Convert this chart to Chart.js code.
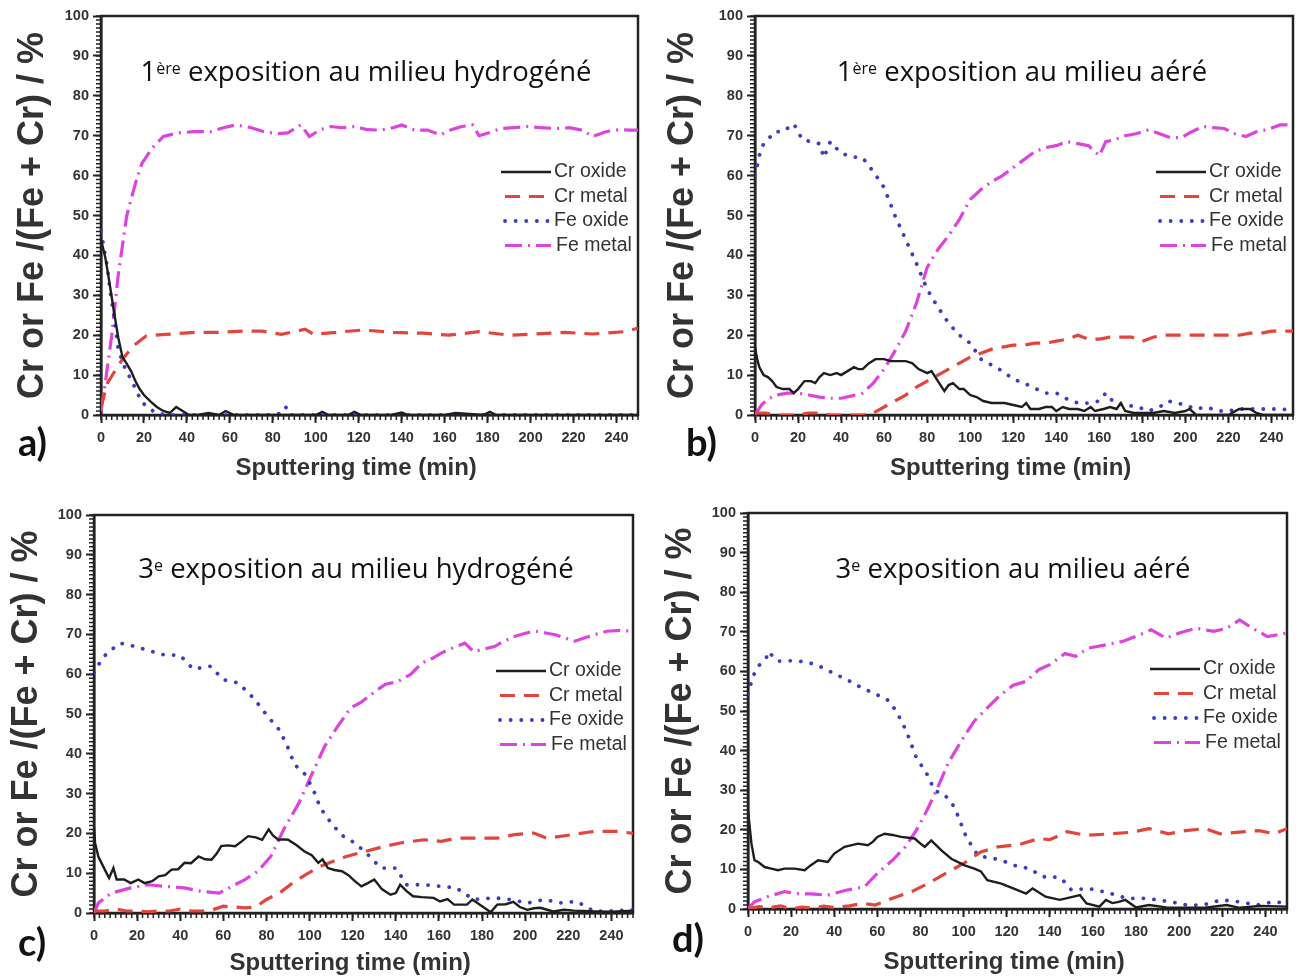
<!DOCTYPE html>
<html>
<head>
<meta charset="utf-8">
<script src="https://cdn.jsdelivr.net/npm/chart.js@4.4.1/dist/chart.umd.min.js"></script>
<style>
  body { margin: 0; background: #fff; width: 1299px; height: 979px; position: relative; overflow: hidden; }
  canvas { position: absolute; }
  .ttl { position: absolute; font-family: "Open Sans", sans-serif; font-size: 27.5px; line-height: 32px; color: #111; white-space: nowrap; transform: translateX(-50%); }
  .ttl sup { font-size: 16px; vertical-align: top; position: relative; top: -3px; }
  .lbl { position: absolute; font-family: Lato, sans-serif; font-weight: bold; font-size: 38px; line-height: 40px; color: #111; }
</style>
</head>
<body>
<canvas id="chartA" width="650" height="490" style="left:0;top:0"></canvas>
<canvas id="chartB" width="649" height="490" style="left:650px;top:0"></canvas>
<canvas id="chartC" width="650" height="489" style="left:0;top:490px"></canvas>
<canvas id="chartD" width="649" height="489" style="left:650px;top:490px"></canvas>

<div class="ttl" style="left:366px;top:55px">1<sup>ère</sup> exposition au milieu hydrogéné</div>
<div class="ttl" style="left:1022px;top:55px">1<sup>ère</sup> exposition au milieu aéré</div>
<div class="ttl" style="left:356px;top:552px">3<sup>e</sup> exposition au milieu hydrogéné</div>
<div class="ttl" style="left:1013px;top:552px">3<sup>e</sup> exposition au milieu aéré</div>

<div class="lbl" style="left:18px;top:421px">a)</div>
<div class="lbl" style="left:686px;top:421px">b)</div>
<div class="lbl" style="left:18px;top:921px">c)</div>
<div class="lbl" style="left:672px;top:917px">d)</div>

<script>
const seriesNames = ['Cr oxide', 'Cr metal', 'Fe oxide', 'Fe metal']

// a) 1ère exposition, milieu hydrogéné
const aCrOxT = [0,2,4,6,8,10,12,14,16,18,20,23,26,29,32,35,38,41,45,50,55,58,62,70,80,90,100,103,106,115,118,121,135,140,143,160,165,178,181,184,200,220,240,250]
const aCrOxV = [44,39.5,33,26,19.5,14.5,12.8,11,8.5,6.5,5,3.4,2,1,0.5,2,1,0,0,0.5,0,1,0,0,0,0,0,0.8,0,0,0.8,0,0,0.6,0,0,0.5,0,0.8,0,0,0,0,0]
const aCrMeT = [0,3,7,10,15,21,30,44,54,66,75,84,95,99,111,122,136,150,162,176,190,202,216,229,244,250]
const aCrMeV = [2,8,11.5,14,17.3,19.8,20.2,20.7,20.7,21,21,20.2,21.5,20.2,20.8,21.3,20.7,20.5,20,20.9,20,20.3,20.7,20.3,20.9,21.8]
const aFeOxT = [0,3,4,6,8,11,15,19,25,30,60,80,84,86,88,100,150,200,250]
const aFeOxV = [46,37,32,25,16.5,12,7.8,3.2,0.7,0,0,0,0.5,2,0,0,0,0,0]
const aFeMeT = [0,2,5,8,12,16,19,24,29,36,43,51,57,63,70,76,82,87,93,97,102,107,112,118,124,130,136,140,146,152,158,163,168,173,176,181,186,192,198,205,212,218,224,229,235,241,246,250]
const aFeMeV = [1,8,20,35,50,58,63,67,69.8,70.7,71,71,72,72.7,72,71,70.5,70.7,72.7,69.8,71.5,72.3,72,72.3,71.5,71.4,72,72.7,71.4,71.4,70.2,71.5,72.3,72.7,70,70.8,71.8,72,72.3,72,71.8,72,71.4,69.8,71,71.5,71.4,71.4]

// b) 1ère exposition, milieu aéré
const bCrOxT = [0,1,2,4,6,8,10,13,16,18,20,23,26,28,30,32,35,38,40,43,46,48,50,53,56,60,63,66,70,73,76,80,82,85,88,90,92,95,97,100,103,106,110,113,116,120,124,126,128,132,135,138,140,143,146,150,153,156,158,162,165,168,170,172,176,180,185,190,195,200,202,205,210,215,220,225,230,233,236,250]
const bCrOxV = [17,14,12,10,9.5,8.5,7,6.5,6.5,5.5,6.5,8.5,8.5,8,9.5,10.5,10,10.5,10,11,12,11.5,11.5,13,14,14,13.5,13.5,13.5,13,11.5,10.5,11,8.5,6,7.5,8,6.5,6.5,5,4.5,3.5,3,3,3,2.5,2,3,1.5,1.5,2,2,1,2,1.5,1.5,1,2,1,1.5,2,1.5,3,1,0.5,0.5,0.5,1,0.5,1,1.5,0,0,0,0,1.5,1.5,0.5,0,0]
const bCrMeT = [0,5,10,15,20,25,30,35,40,45,50,55,60,65,70,75,80,85,90,95,100,105,110,115,120,125,130,135,140,145,150,155,160,165,170,175,180,185,190,195,200,205,210,215,220,225,230,235,240,245,250]
const bCrMeV = [0.5,0.5,0,0,0,0.5,0.5,0,0,0,0,0.5,2,3.5,5,7,8.5,10,11.5,13,14.5,15.5,16.5,17,17.5,17.5,18,18,18.5,19,20,19,19,19.5,19.5,19.5,18.5,19.5,20,20,20,20,20,20,20,20,20.5,20.5,21,21,21]
const bFeOxT = [0,2,4,6,9,13,18,22,26,30,32,35,40,45,50,55,60,65,70,75,80,85,90,95,100,105,110,115,120,125,130,135,140,145,150,155,160,163,167,172,178,183,188,192,196,200,205,210,215,220,225,230,235,240,245,250]
const bFeOxV = [60,65,68,69,71,71,73,69,68.5,68,64.5,68.5,65.6,64.7,64.5,61,57,50,44,38,31.5,27,23,20,18,14,12.5,11,9,8,6.7,5.5,5.5,4,3,3,3.5,5.5,3,2.5,2,1,2,3.5,3,2.5,1.5,2,1,1,1.5,1.5,1.5,1.5,1.5,1]
const bFeMeT = [0,3,6,10,15,20,25,30,35,40,45,50,55,60,65,70,75,80,85,90,95,100,105,110,115,120,125,130,135,140,145,150,155,160,163,167,172,177,183,188,193,198,203,208,213,218,223,228,233,238,244,250]
const bFeMeV = [0,2.5,4,5,5.5,5.5,5,4.5,4.2,4.2,4.8,5.5,8,11.5,16,21,28,37,41.5,45,49,54,56.5,58.5,60,62,64,66,67,67.5,68.5,68,67.5,65,68.5,69,70,70.5,71.5,70.5,69.5,69.5,71,72.3,72,71.8,70.5,69.8,71,71.5,72.7,72.7]

// c) 3e exposition, milieu hydrogéné
const cCrOxT = [0,0.5,2,5,7,9,10.5,14,17,20.5,23.5,27,30,33,36,39,42,45,48.5,51.5,54.5,57,59,62,65.5,68.5,71.5,75,78,81,83,85.5,88,90,94,97.5,101,104,106,108.5,111.5,115,118,121,124,127,130,133.5,137.5,140,142,145,148,152,157.5,160.5,164,167,173,175.5,180.5,184,187,191,194.5,197.5,201,204,207,213,218,222.5,227,232,240,250]
const cCrOxV = [21.4,17.6,14.2,10.9,8.8,11.3,8.4,8.4,7.5,8.4,7.5,8,9.2,9.5,10.9,11,12.6,12.5,14.2,13.5,13.4,15,16.8,17,16.8,18,19.3,19,18.4,21,19.5,18.4,18.5,18.4,17,15.5,14.5,12.6,13.5,11.3,10.8,10.5,9.5,8,6.7,7.5,8.4,6,4.6,5,7.1,5.5,4.2,4,3.8,2.9,3.5,2.1,2.1,3.4,1.5,0.2,2.1,2.2,2.8,1.5,0.8,1.2,1.3,0.4,0.8,0.6,0.5,0.4,0.3,0.6]
const cCrMeT = [0,5,10,15,20,25,30,35,40,45,50,55,60,65,70,75,80,86,92,98,105,111,117,126,133,142,153,161,168,179,187,195,204,210,222,232,243,250]
const cCrMeV = [0.5,0.5,1,0.5,0.5,0.3,0.5,0.5,1,0.5,0.5,0.8,1.7,1.5,1.3,1.5,3.4,5,7.5,9.6,11.7,13,14.2,15.5,16.5,17.6,18.4,18,18.8,18.8,18.8,19.7,20.1,18.8,19.7,20.5,20.5,20]
const cFeOxT = [0,3,6,12,19,25,32,40,46,54,60,67,74,80,86,90,93,98,102,105,110,115,121,127,133,140,145,153,161,168,176,186,193,201,209,216,224,232,240,250]
const cFeOxV = [60.3,63.2,65.3,67.8,67,66,64.9,64.7,61.3,62,58.6,57.8,54,49.8,46,41.5,37.3,34.8,30.6,26.4,22.6,19.5,17.6,14.7,11.3,11.3,7.1,7.1,6.7,6.3,3.4,3.8,3.4,2.5,3.4,2.5,2.9,0.4,0.5,0.8]
const cFeMeT = [0,2,8,17,25,33,42,50,58,64,70,76,82,88,95,101,107,113,119,124,130,135,141,147,152,157,161,166,172,176,181,186,190,195,200,205,210,214,219,223,228,232,238,244,250]
const cFeMeV = [0,2.5,5,6.3,7.1,6.7,6.3,5.4,5,6.7,8.4,10.5,14.2,21,27.6,34.8,41.9,46.9,51.5,53,55.5,57.4,58.2,60,62.8,64,65.3,66.5,67.8,65.7,66.3,67,68.3,69.5,70.3,70.8,70.3,69.9,69,68.3,69.2,69.9,70.8,71,70.8]

// d) 3e exposition, milieu aéré
const dCrOxT = [0,1.6,3,4.6,7.7,10.8,13.9,17,21.6,26.3,29,32.5,37,40,44.8,51,55.6,58,60,63.4,67,71,77.3,80,82,85,89.7,94.3,100.5,105,108,111,117.5,123,129,132,138,144.6,150,154,157,163,166,169,172,175,180,186,194,203,212,222,228,237.5,250]
const dCrOxV = [24.9,16.5,12.3,11.9,10.6,10.2,9.8,10.2,10.2,9.8,11,12.3,11.9,14,15.7,16.5,16.1,17,18.2,19,18.7,18.2,17.8,16.5,15.7,17.3,14.8,12.7,11,10.2,9.5,7.3,6.4,5.2,3.9,5.2,3.1,2.3,3,3.5,1.4,0.6,2.3,1.5,1.8,2.3,0.4,1,0.4,0.3,0.3,1,0.3,0.8,0.6]
const dCrMeT = [0,5,10,15,20,25,30,35,40,47,53,59,67,76,85,93,100,108,116,126,135,140,148,157,169,178,186,195,203,212,219,228,237,244,250]
const dCrMeV = [0,0.6,0.3,0.8,0,0.5,0.2,0.7,0.4,0.8,1.4,1,2.7,4.4,6.9,9.4,11.5,14.4,15.7,16.3,17.8,17.5,19.5,18.6,19,19.4,20.3,19,19.8,20.3,19,19.4,19.8,19,20.3]
const dFeOxT = [0,2.3,5.4,8.5,9.3,13.9,21.6,26.3,31.7,39.4,45.6,52.6,59.5,65.7,69.5,73.4,78,83.4,86.5,91,95.8,101.2,106.6,111,116.7,123.6,130.6,136.8,140,145.4,150,157.8,164.7,171,175.5,184.8,196.4,203.4,211,219.6,228,236,243.6,250]
const dFeOxV = [54.2,58.8,61.7,63.4,65,62.6,62.7,62.4,61.7,59.6,58,55.9,54.2,52.5,49.2,45,38.3,33.7,29.9,29,25.7,18.2,13.5,13,12.5,11,10.2,8.1,8.3,7.7,4.8,5.2,4.4,3.5,2.7,2.7,1.8,1,1,2.3,1.8,1,1.8,1.5]
const dFeMeT = [0,3,9,17,22,29,37,46,54,60,67,73,78,83,88,93,99,105,111,117,123,129,135,140,147,152,158,166,174,182,187,194,200,208,216,222,228,234,241,250]
const dFeMeV = [0,1.8,3.1,4.4,3.9,3.8,3.5,4.8,5.6,9,12.3,15.7,19.8,24.9,30.7,37,42.5,47.5,50.8,54,56.5,57.5,60.5,61.7,64.5,63.8,65.9,66.7,67.6,69.3,70.5,68.4,69.7,70.9,70.1,70.9,73,70.9,68.8,69.7]

const xTicks = [0, 20, 40, 60, 80, 100, 120, 140, 160, 180, 200, 220, 240]
const yTitle = 'Cr or Fe /(Fe + Cr) / %'
// trailing spaces nudge the centred axis title a little to the left, as in the figure
const xTitle = 'Sputtering time (min)    '

const lineStyles = [
  { borderColor: '#1e1e1e', borderWidth: 2.4, borderDash: [], borderCapStyle: 'butt' },
  { borderColor: '#e2453c', borderWidth: 3.2, borderDash: [15, 9], borderCapStyle: 'butt' },
  { borderColor: '#3c3cc0', borderWidth: 3.8, borderDash: [0.1, 10.5], borderCapStyle: 'round' },
  { borderColor: '#dd44dd', borderWidth: 3.2, borderDash: [17, 6, 2, 6], borderCapStyle: 'butt' }
]

const pts = (t, v) => t.map((x, i) => ({ x, y: v[i] }))

const minorTicks = {
  id: 'minorTicks',
  beforeDatasetsDraw(chart) {
    const { ctx, chartArea: ca, scales: { x, y } } = chart
    ctx.save()
    ctx.strokeStyle = '#222'
    ctx.lineWidth = 1.5
    ctx.beginPath()
    for (let v = 0; v <= 100; v += 1) {
      const py = y.getPixelForValue(v)
      ctx.moveTo(ca.left, py)
      ctx.lineTo(ca.left - 5, py)
    }
    for (let v = 0; v <= 250; v += 2.5) {
      const px = x.getPixelForValue(v)
      ctx.moveTo(px, ca.bottom)
      ctx.lineTo(px, ca.bottom + 5)
    }
    ctx.stroke()
    ctx.lineWidth = 2.5
    ctx.strokeRect(ca.left, ca.top, ca.right - ca.left, ca.bottom - ca.top)
    ctx.restore()
  }
}

const insideLegend = {
  id: 'insideLegend',
  afterDraw(chart) {
    const { ctx, chartArea: ca } = chart
    chart.data.datasets.forEach((ds, i) => {
      const y = ca.top + 156 + i * 24.5
      ctx.save()
      ctx.strokeStyle = ds.borderColor
      ctx.lineWidth = ds.borderWidth
      ctx.setLineDash(ds.borderDash)
      ctx.lineCap = ds.borderCapStyle
      ctx.beginPath()
      ctx.moveTo(i === 0 ? ca.right - 137 : ca.right - 133, y)
      ctx.lineTo(ca.right - 87, y)
      ctx.stroke()
      ctx.fillStyle = '#333'
      ctx.font = '19.5px "Liberation Sans", Arial, sans-serif'
      ctx.textBaseline = 'middle'
      ctx.fillText(ds.label, ca.right - 84 + (i === 3 ? 2 : 0), y)
      ctx.restore()
    })
  }
}

const tickFont = { family: '"Liberation Sans", Arial, sans-serif', weight: 'bold', size: 14.5 }

const makeChart = (id, data, box) => {
  const datasets = data.map((d, i) => ({
    label: seriesNames[i],
    data: pts(d[0], d[1]),
    ...lineStyles[i],
    pointRadius: 0,
    fill: false,
    tension: 0
  }))
  return new Chart(document.getElementById(id), {
    type: 'line',
    data: { datasets },
    options: {
      responsive: false,
      animation: false,
      layout: { padding: box.pad },
      plugins: { legend: { display: false }, tooltip: { enabled: false } },
      scales: {
        x: {
          type: 'linear',
          min: 0,
          max: 250,
          afterBuildTicks: (s) => { s.ticks = xTicks.map((value) => ({ value })) },
          afterFit: (s) => { s.height = box.xh },
          ticks: { font: tickFont, color: '#333', padding: 6, maxRotation: 0, autoSkip: false },
          grid: { drawOnChartArea: false, tickLength: 8, tickWidth: 2, tickColor: '#222' },
          border: { color: '#222', width: 2.5 },
          title: {
            display: true,
            text: xTitle,
            color: '#333',
            font: { family: '"Liberation Sans", Arial, sans-serif', weight: 'bold', size: 24 },
            padding: { top: 0, bottom: box.xb }
          }
        },
        y: {
          min: 0,
          max: 100,
          afterFit: (s) => { s.width = box.yw },
          ticks: { stepSize: 10, font: tickFont, color: '#333', padding: 4 },
          grid: { drawOnChartArea: false, tickLength: 8, tickWidth: 2, tickColor: '#222' },
          border: { color: '#222', width: 2.5 },
          title: {
            display: true,
            text: yTitle,
            color: '#333',
            font: { family: '"Liberation Sans", Arial, sans-serif', weight: 'bold', size: 36 },
            padding: { top: box.yt, bottom: 0 }
          }
        }
      }
    },
    plugins: [minorTicks, insideLegend]
  })
}

makeChart('chartA', [[aCrOxT, aCrOxV], [aCrMeT, aCrMeV], [aFeOxT, aFeOxV], [aFeMeT, aFeMeV]],
  { pad: { top: 16, right: 12, bottom: 0, left: 0 }, yw: 101, xh: 75, xb: 7.6, yt: 11.4 })
makeChart('chartB', [[bCrOxT, bCrOxV], [bCrMeT, bCrMeV], [bFeOxT, bFeOxV], [bFeMeT, bFeMeV]],
  { pad: { top: 16, right: 6, bottom: 0, left: 0 }, yw: 105, xh: 75, xb: 7.6, yt: 11.4 })
makeChart('chartC', [[cCrOxT, cCrOxV], [cCrMeT, cCrMeV], [cFeOxT, cFeOxV], [cFeMeT, cFeMeV]],
  { pad: { top: 25, right: 17, bottom: 0, left: 0 }, yw: 94, xh: 66, xb: 1.6, yt: 5.4 })
makeChart('chartD', [[dCrOxT, dCrOxV], [dCrMeT, dCrMeV], [dFeOxT, dFeOxV], [dFeMeT, dFeMeV]],
  { pad: { top: 23, right: 12, bottom: 0, left: 0 }, yw: 98, xh: 70, xb: 2.6, yt: 9.4 })
</script>
</body>
</html>
